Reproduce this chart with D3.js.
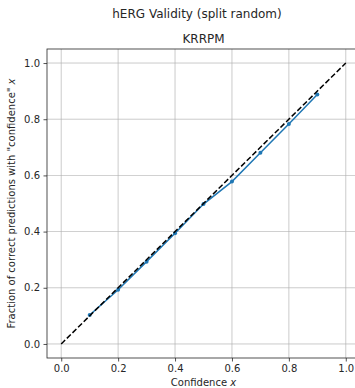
<!DOCTYPE html>
<html>
<head>
<meta charset="utf-8">
<script src="https://cdn.jsdelivr.net/npm/d3@7"></script>
<style>
	body{margin:0;background:#fff}
	svg text{font-family:"DejaVu Sans",sans-serif;fill:#262626}
</style>
</head>
<body>
<svg width="355" height="388"></svg>
<script>
// calibration curve data
const confidence = [0.1, 0.2, 0.3, 0.4, 0.5, 0.6, 0.7, 0.8, 0.9]
const fraction = [0.103, 0.193, 0.293, 0.394, 0.498, 0.578, 0.681, 0.783, 0.888]
const ideal = [0, 1]
const tickValues = [0, 0.2, 0.4, 0.6, 0.8, 1.0]

const svg = d3.select("svg")
const mLeft = 47, mRight = 360, mTop = 49, mBottom = 358

let x = d3.scaleLinear().domain([-0.05, 1.05]).range([mLeft, mRight])
let y = d3.scaleLinear().domain([-0.05, 1.05]).range([mBottom, mTop])

svg.append("rect")
	.attr("x", mLeft).attr("y", mTop)
	.attr("width", mRight-mLeft).attr("height", mBottom-mTop)
	.attr("fill", "#fff")

// grid
svg.append("g").selectAll("line").data(tickValues).join("line")
	.attr("x1", d=>x(d)).attr("x2", d=>x(d))
	.attr("y1", mTop).attr("y2", mBottom)
	.attr("stroke", "#b0b0b0").attr("stroke-width", 0.8).attr("opacity", 0.8)
svg.append("g").selectAll("line").data(tickValues).join("line")
	.attr("y1", d=>y(d)).attr("y2", d=>y(d))
	.attr("x1", mLeft).attr("x2", mRight)
	.attr("stroke", "#b0b0b0").attr("stroke-width", 0.8).attr("opacity", 0.8)

// data line
const pts = confidence.map((c,i)=>[c, fraction[i]])
svg.append("path")
	.datum(pts)
	.attr("d", d3.line().x(d=>x(d[0])).y(d=>y(d[1])))
	.attr("fill", "none").attr("stroke", "#1f77b4").attr("stroke-width", 1.5)
svg.append("g").selectAll("circle").data(pts).join("circle")
	.attr("cx", d=>x(d[0])).attr("cy", d=>y(d[1]))
	.attr("r", 2).attr("fill", "#1f77b4")

// ideal diagonal
svg.append("path")
	.datum(ideal)
	.attr("d", d3.line().x(d=>x(d)).y(d=>y(d)))
	.attr("fill", "none").attr("stroke", "#000").attr("stroke-width", 1.5)
	.attr("stroke-dasharray", "5.5,2.4")

// axes
const xAxis = svg.append("g")
	.attr("transform", `translate(0,${mBottom})`)
	.call(d3.axisBottom(x).tickValues(tickValues).tickFormat(d3.format(".1f")).tickSize(3.5).tickPadding(3.5))
const yAxis = svg.append("g")
	.attr("transform", `translate(${mLeft},0)`)
	.call(d3.axisLeft(y).tickValues(tickValues).tickFormat(d3.format(".1f")).tickSize(3.5).tickPadding(3.5))
;[xAxis, yAxis].forEach(a=>{
	a.select(".domain").remove()
	a.selectAll("text").attr("font-size", 10).attr("fill", "#262626")
	a.selectAll("line").attr("stroke", "#262626").attr("stroke-width", 0.8)
})

svg.append("rect")
	.attr("x", mLeft).attr("y", mTop)
	.attr("width", mRight-mLeft).attr("height", mBottom-mTop)
	.attr("fill", "none").attr("stroke", "#262626").attr("stroke-width", 0.8)

// titles
svg.append("text").attr("x", 197).attr("y", 18)
	.attr("text-anchor", "middle").attr("font-size", 12)
	.text("hERG Validity (split random)")
svg.append("text").attr("x", (mLeft+mRight)/2).attr("y", 43)
	.attr("text-anchor", "middle").attr("font-size", 12)
	.text("KRRPM")
svg.append("text").attr("x", (mLeft+mRight)/2).attr("y", 386)
	.attr("text-anchor", "middle").attr("font-size", 10)
	.html('Confidence <tspan font-style="italic">x</tspan>')
svg.append("text")
	.attr("transform", `translate(15,${(mTop+mBottom)/2}) rotate(-90)`)
	.attr("text-anchor", "middle").attr("font-size", 10)
	.html('Fraction of correct predictions with "confidence" <tspan font-style="italic">x</tspan>')
</script>
</body>
</html>
